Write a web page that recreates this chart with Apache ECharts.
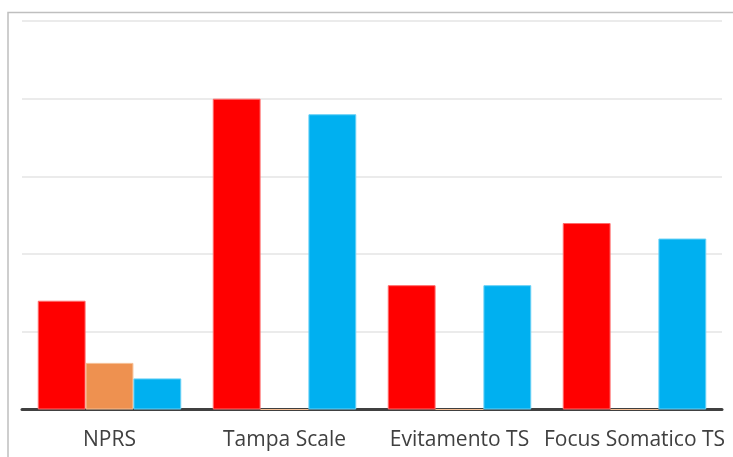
<!DOCTYPE html>
<html>
<head>
<meta charset="utf-8">
<script src="https://cdn.jsdelivr.net/npm/echarts@6/dist/echarts.min.js"></script>
<style>
  html, body { margin: 0; padding: 0; background: #fff; }
  #chart { width: 733px; height: 457px; }
</style>
</head>
<body>
<div id="chart"></div>
<script>
// Scale categories and the three series shown for each
const categories = ['NPRS', 'Tampa Scale', 'Evitamento TS', 'Focus Somatico TS'];
const seriesA = [7, 20, 8, 12];     // red
const seriesB = [3, 0, 0, 0];       // orange
const seriesC = [2, 19, 8, 11];     // blue

const axisMax = 25;
const axisStep = 5;

const chart = echarts.init(document.getElementById('chart'), null, { renderer: 'canvas' });

function barSeries(name, data, fill, edge) {
  return {
    name: name,
    type: 'bar',
    data: data,
    barGap: '0%',
    barCategoryGap: '18%',
    itemStyle: { color: fill, borderColor: edge, borderWidth: 1 }
  };
}

chart.setOption({
  animation: false,
  backgroundColor: '#ffffff',
  grid: { left: 22, right: 11, top: 21, bottom: 47.5, containLabel: false },
  graphic: [{
    type: 'rect',
    shape: { x: 8, y: 12.5, width: 800, height: 500 },
    style: { fill: 'none', stroke: '#bfbfbf', lineWidth: 1.5 },
    silent: true,
    z: 0
  }],
  xAxis: {
    type: 'category',
    data: categories,
    axisTick: { show: false },
    axisLine: { show: true, lineStyle: { color: '#404040', width: 3 } },
    axisLabel: {
      interval: 0,
      hideOverlap: false,
      color: '#404040',
      fontFamily: 'Open Sans',
      fontSize: 21,
      margin: 20
    }
  },
  yAxis: {
    type: 'value',
    min: 0,
    max: axisMax,
    interval: axisStep,
    axisLabel: { show: false },
    axisLine: { show: false },
    axisTick: { show: false },
    splitLine: { lineStyle: { color: '#e4e4e4', width: 1.5 } }
  },
  series: [
    barSeries('A', seriesA, '#ff0000', '#ff6b6b'),
    barSeries('B', seriesB, '#ee9150', '#f6bd92'),
    barSeries('C', seriesC, '#00b0f0', '#66d0f6')
  ]
});
</script>
</body>
</html>
